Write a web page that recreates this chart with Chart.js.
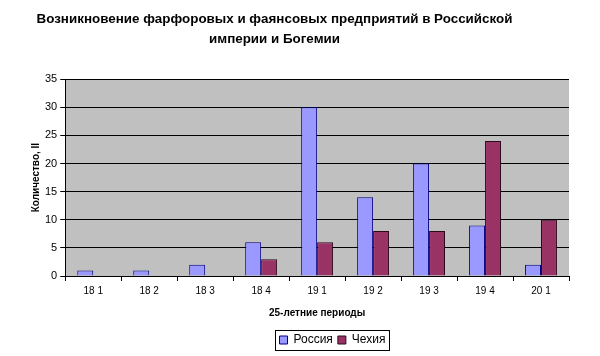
<!DOCTYPE html>
<html>
<head>
<meta charset="utf-8">
<script src="https://cdn.jsdelivr.net/npm/chart.js@4.4.1/dist/chart.umd.min.js"></script>
<style>
  html, body { margin: 0; padding: 0; background: #fff; }
  #wrap { width: 600px; height: 356px; }
</style>
</head>
<body>
<div id="wrap"><canvas id="chart"></canvas></div>
<script>
// periods (25-летние периоды)
const periods = ['18 1', '18 2', '18 3', '18 4', '19 1', '19 2', '19 3', '19 4', '20 1'];
const russia = [1, 1, 2, 6, 30, 14, 20, 9, 2];
const czech = [0, 0, 0, 3, 6, 8, 8, 24, 10];

// серый фон области графика
const plotBg = {
  id: 'plotBg',
  beforeDraw(chart) {
    const a = chart.chartArea;
    const c = chart.ctx;
    c.save();
    c.fillStyle = '#c0c0c0';
    c.fillRect(a.left, a.top, a.right - a.left, a.bottom - a.top);
    c.restore();
  }
};

// в оригинале заголовок сдвинут влево, легенда вправо
const shiftBoxes = {
  id: 'shiftBoxes',
  afterLayout(chart) {
    const t = chart.titleBlock;
    if (t) { t.left -= 25; t.right -= 25; }
    const l = chart.legend;
    if (l) { l.left += 33; l.right += 33; }
  }
};

// рамка вокруг легенды (только вокруг элементов)
const legendBox = {
  id: 'legendBox',
  afterDraw(chart) {
    const boxes = chart.legend.legendHitBoxes;
    if (!boxes || !boxes.length) return;
    const first = boxes[0], last = boxes[boxes.length - 1];
    const x1 = Math.round(first.left - 5) + 0.5;
    const x2 = Math.round(last.left + last.width + 4) + 0.5;
    const y1 = Math.round(first.top - 4) + 0.5;
    const y2 = Math.round(first.top + first.height + 4) + 0.5;
    const c = chart.ctx;
    c.save();
    c.strokeStyle = '#000';
    c.lineWidth = 1;
    c.strokeRect(x1, y1, x2 - x1, y2 - y1);
    c.restore();
  }
};

const ctx = document.getElementById('chart').getContext('2d');
const chart = new Chart(ctx, {
  type: 'bar',
  data: {
    labels: periods,
    datasets: [{
      label: 'Россия',
      data: russia,
      backgroundColor: '#9999ff',
      borderColor: '#000080',
      borderWidth: 1
    }, {
      label: 'Чехия',
      data: czech,
      backgroundColor: '#993366',
      borderColor: '#2a0a1a',
      borderWidth: 1
    }]
  },
  options: {
    responsive: true,
    maintainAspectRatio: false,
    animation: false,
    categoryPercentage: 0.57,
    barPercentage: 1,
    layout: { padding: { left: 30, right: 31, top: 0, bottom: 0 } },
    plugins: {
      title: {
        display: true,
        text: ['Возникновение фарфоровых и фаянсовых предприятий в Российской', 'империи и Богемии'],
        color: '#000',
        font: { family: 'Liberation Sans, Arial', size: 13.4, weight: 'bold', lineHeight: 1.5 },
        padding: { top: 9, bottom: 30 }
      },
      legend: {
        position: 'bottom',
        labels: {
          color: '#000',
          font: { family: 'Liberation Sans, Arial', size: 12 },
          boxWidth: 8,
          boxHeight: 8,
          padding: 5
        }
      },
      tooltip: { enabled: false }
    },
    scales: {
      x: {
        grid: { offset: true, drawOnChartArea: false, color: '#000', tickLength: 5 },
        border: { color: '#000' },
        ticks: { color: '#000', font: { family: 'Liberation Sans, Arial', size: 10 }, padding: 4 },
        title: {
          display: true,
          text: '25-летние периоды',
          color: '#000',
          font: { family: 'Liberation Sans, Arial', size: 10, weight: 'bold' },
          padding: { top: 6, bottom: 10 }
        }
      },
      y: {
        min: 0,
        max: 35,
        ticks: { stepSize: 5, color: '#000', font: { family: 'Liberation Sans, Arial', size: 11 }, padding: 3 },
        grid: { color: '#000', tickLength: 5 },
        border: { color: '#000' },
        title: {
          display: true,
          text: 'Количество, II',
          color: '#000',
          font: { family: 'Liberation Sans, Arial', size: 10, weight: 'bold' },
          padding: { top: 0, bottom: 0 }
        }
      }
    }
  },
  plugins: [plotBg, shiftBoxes, legendBox]
});
</script>
</body>
</html>
